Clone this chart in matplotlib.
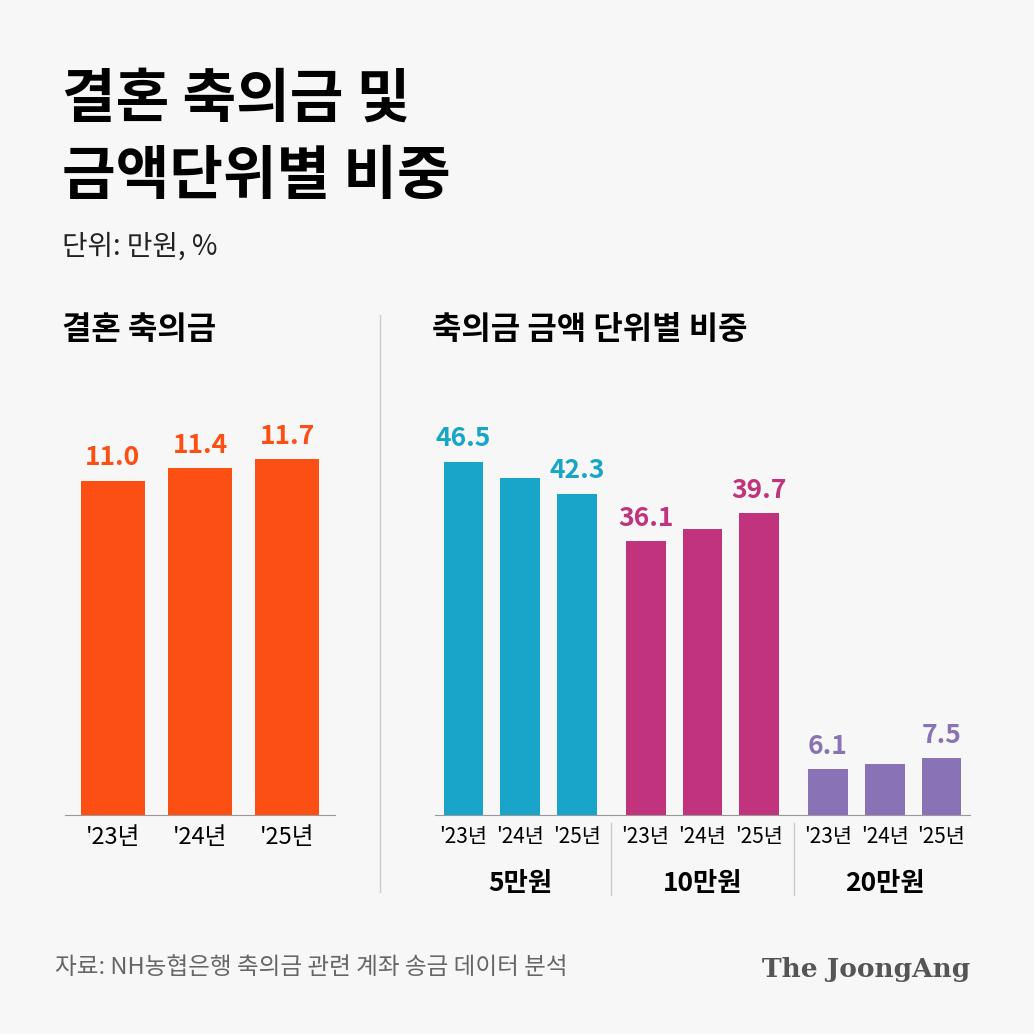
import matplotlib.pyplot as plt
import numpy as np

plt.rcParams['font.family'] = ['Noto Sans CJK KR', 'DejaVu Sans']

years = ["'23년", "'24년", "'25년"]
gift = [11.0, 11.4, 11.7]
groups = ['5만원', '10만원', '20만원']
share = {'5만원': [46.5, 44.4, 42.3], '10만원': [36.1, 37.6, 39.7], '20만원': [6.1, 6.7, 7.5]}
group_colors = ['#18a5c9', '#c2337d', '#8a72b6']
orange = '#fc4f14'

W = H = 1034
bg = '#f7f7f7'
fig = plt.figure(figsize=(10.34, 10.34), dpi=100, facecolor=bg)

def box(x0, y0, x1, y1):
    return [x0 / W, 1 - y1 / H, (x1 - x0) / W, (y1 - y0) / H]

fig.text(62 / W, 1 - 100 / H, '결혼 축의금 및', fontsize=42, fontweight='bold', va='center')
fig.text(62 / W, 1 - 177 / H, '금액단위별 비중', fontsize=42, fontweight='bold', va='center')
fig.text(62 / W, 1 - 247 / H, '단위: 만원, %', fontsize=20, va='center', color='#222')
fig.text(62 / W, 1 - 330 / H, '결혼 축의금', fontsize=23, fontweight='bold', va='center')
fig.text(432 / W, 1 - 330 / H, '축의금 금액 단위별 비중', fontsize=23, fontweight='bold', va='center')
fig.text(55 / W, 1 - 968 / H, '자료: NH농협은행 축의금 관련 계좌 송금 데이터 분석', fontsize=17, va='center', color='#666')
fig.text(970 / W, 1 - 970 / H, 'The JoongAng', fontsize=19, fontweight='bold', family='DejaVu Serif',
         va='center', ha='right', color='#555')
fig.add_artist(plt.Line2D([380 / W, 380 / W], [1 - 315 / H, 1 - 892 / H], color='#cccccc', lw=1))

# left: wedding gift amount
ax = fig.add_axes(box(65, 435, 335, 815))
ax.set_facecolor('none')
x = np.arange(len(years))
ax.bar(x, gift, width=0.74, color=orange)
for xi, v in zip(x, gift):
    ax.text(xi, v + 0.3, f'{v:.1f}', ha='center', va='bottom', fontsize=19, fontweight='bold', color=orange)
ax.set_ylim(0, 12.5)
ax.set_xlim(-0.55, 2.55)
ax.set_xticks(x, years, fontsize=17)
ax.tick_params(length=0, pad=8)
ax.set_yticks([])
for s in ['top', 'right', 'left']:
    ax.spines[s].set_visible(False)
ax.spines['bottom'].set_color('#999')

# right: share by unit
ax2 = fig.add_axes(box(435, 435, 970, 815))
ax2.set_facecolor('none')
pos = []
labels = []
for gi, (g, c) in enumerate(zip(groups, group_colors)):
    xs = gi * 3.2 + np.arange(3)
    vals = share[g]
    ax2.bar(xs, vals, width=0.7, color=c)
    for k in (0, 2):
        ax2.text(xs[k], vals[k] + 1.2, f'{vals[k]:.1f}', ha='center', va='bottom',
                 fontsize=19, fontweight='bold', color=c)
    pos += list(xs)
    labels += years
    ax2.text(xs[1], -9, g, ha='center', va='center', fontsize=19, fontweight='bold')
    if gi > 0:
        ax2.plot([xs[0] - 0.6] * 2, [-1, -10.5], color='#cccccc', lw=1, clip_on=False)
ax2.set_ylim(0, 50)
ax2.set_xlim(-0.5, pos[-1] + 0.5)
ax2.set_xticks(pos, labels, fontsize=15)
ax2.tick_params(length=0, pad=8)
ax2.set_yticks([])
for s in ['top', 'right', 'left']:
    ax2.spines[s].set_visible(False)
ax2.spines['bottom'].set_color('#999')

fig.savefig('out.png', dpi=100, facecolor=bg)
